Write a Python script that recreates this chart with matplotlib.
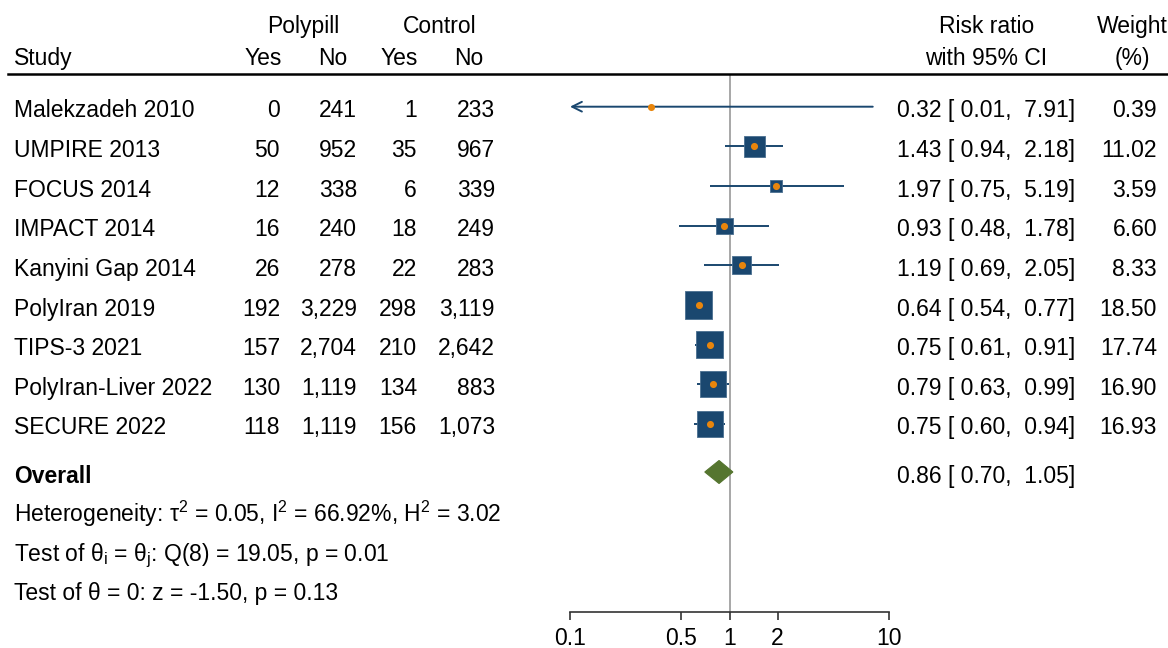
import matplotlib
matplotlib.use("Agg")
import matplotlib.pyplot as plt
from matplotlib.patches import Polygon
from matplotlib.lines import Line2D
import matplotlib.transforms as mtransforms
import numpy as np

plt.rcParams['font.family'] = ['Liberation Sans', 'DejaVu Sans']
plt.rcParams['mathtext.fontset'] = 'custom'
plt.rcParams['mathtext.rm'] = 'Liberation Sans'
plt.rcParams['mathtext.it'] = 'Liberation Sans'
FS = 16.5

# dados dos estudos
studies = ["Malekzadeh 2010", "UMPIRE 2013", "FOCUS 2014", "IMPACT 2014",
           "Kanyini Gap 2014", "PolyIran 2019", "TIPS-3 2021",
           "PolyIran-Liver 2022", "SECURE 2022"]
pp_yes = [0, 50, 12, 16, 26, 192, 157, 130, 118]
pp_no = [241, 952, 338, 240, 278, 3229, 2704, 1119, 1119]
ct_yes = [1, 35, 6, 18, 22, 298, 210, 134, 156]
ct_no = [233, 967, 339, 249, 283, 3119, 2642, 883, 1073]
rr = [0.32, 1.43, 1.97, 0.93, 1.19, 0.64, 0.75, 0.79, 0.75]
ci_lo = [0.01, 0.94, 0.75, 0.48, 0.69, 0.54, 0.61, 0.63, 0.60]
ci_hi = [7.91, 2.18, 5.19, 1.78, 2.05, 0.77, 0.91, 0.99, 0.94]
weights = [0.39, 11.02, 3.59, 6.60, 8.33, 18.50, 17.74, 16.90, 16.93]

overall_rr, overall_lo, overall_hi = 0.86, 0.70, 1.05
x_ticks = [0.1, 0.5, 1, 2, 10]
x_ticklabels = ["0.1", "0.5", "1", "2", "10"]

stats_lines = [
    r"Heterogeneity: $\mathregular{\tau^2}$ = 0.05, $\mathregular{I^2}$ = 66.92%, $\mathregular{H^2}$ = 3.02",
    r"Test of $\mathregular{\theta_i}$ = $\mathregular{\theta_j}$: Q(8) = 19.05, p = 0.01",
    "Test of \u03b8 = 0: z = -1.50, p = 0.13",
]

NAVY = "#1a476f"
ORANGE = "#e8850c"
GREEN = "#55752f"

W, H = 1168, 648
fig = plt.figure(figsize=(W / 100, H / 100), dpi=100)

# eixo do forest plot (log), em pixels: x 570..889, y 74..612
row0, step = 106.7, 39.66
top_px, bot_px = 74, 612
ax = fig.add_axes([570 / W, 1 - bot_px / H, 319 / W, (bot_px - top_px) / H])
ax.set_xscale("log")
ax.set_xlim(0.1, 10)
ax.set_ylim((bot_px - row0) / step, (top_px - row0) / step)
for s in ["top", "right", "left"]:
    ax.spines[s].set_visible(False)
ax.spines["bottom"].set_linewidth(1.2)
ax.spines["bottom"].set_color("#333333")
ax.set_yticks([])
ax.set_xticks(x_ticks)
ax.set_xticklabels(x_ticklabels)
ax.xaxis.set_minor_locator(matplotlib.ticker.NullLocator())
ax.tick_params(axis="x", direction="out", length=6, width=1.2, color="#333333",
               labelsize=FS, pad=5)
ax.patch.set_visible(False)

ax.axvline(1, color="#a0a0a0", lw=1.3, zorder=1)

rows = np.arange(len(studies))
for i in rows:
    if ci_lo[i] < 0.1:
        ax.annotate("", xy=(0.1, i), xytext=(ci_hi[i], i),
                    arrowprops=dict(arrowstyle="->,head_length=0.5,head_width=0.25",
                                    color=NAVY, lw=1.4, mutation_scale=14,
                                    shrinkA=0, shrinkB=0), zorder=2)
    else:
        ax.plot([ci_lo[i], ci_hi[i]], [i, i], color=NAVY, lw=1.4, zorder=2,
                solid_capstyle="butt")

side_pt = 6.33 * 0.72 * np.sqrt(weights)
ax.scatter(rr, rows, marker="s", s=side_pt ** 2, color=NAVY,
           edgecolor="#4a6f90", linewidth=0.6, zorder=3, clip_on=False)
ax.scatter(rr, rows, marker="o", s=26, color=ORANGE, linewidth=0, zorder=4,
           clip_on=False)

# diamante do efeito global
y_ov = (472 - row0) / step
hh = 0.29
ax.add_patch(Polygon([(overall_lo, y_ov), (overall_rr, y_ov - hh),
                      (overall_hi, y_ov), (overall_rr, y_ov + hh)],
                     closed=True, facecolor=GREEN, edgecolor=GREEN, lw=0.8,
                     zorder=3, clip_on=False))

# colunas de texto (y = linha de base em pixels)
tr = mtransforms.blended_transform_factory(fig.transFigure, ax.transData)
def col(px, base_px, s, ha="left", **kw):
    ax.text(px / W, (base_px - row0) / step, s, transform=tr, ha=ha,
            va="baseline", fontsize=FS, clip_on=False, **kw)

b1, b2 = 33, 65
col(14, b2, "Study")
col(303, b1, "Polypill", ha="center")
col(440, b1, "Control", ha="center")
col(282, b2, "Yes", ha="right")
col(347, b2, "No", ha="right")
col(418, b2, "Yes", ha="right")
col(483, b2, "No", ha="right")
col(987, b1, "Risk ratio", ha="center")
col(986, b2, "with 95% CI", ha="center")
col(1132, b1, "Weight", ha="center")
col(1132, b2, "(%)", ha="center")

for i in rows:
    b = row0 + step * i + 10.5
    col(14, b, studies[i])
    col(280, b, f"{pp_yes[i]:,}", ha="right")
    col(357, b, f"{pp_no[i]:,}", ha="right")
    col(417, b, f"{ct_yes[i]:,}", ha="right")
    col(495, b, f"{ct_no[i]:,}", ha="right")
    col(1075, b, f"{rr[i]:.2f} [{ci_lo[i]:5.2f}, {ci_hi[i]:5.2f}]", ha="right")
    col(1157, b, f"{weights[i]:.2f}", ha="right")

col(14, 482.5, "Overall", fontweight="bold")
col(1075, 482.5, f"{overall_rr:.2f} [{overall_lo:5.2f}, {overall_hi:5.2f}]", ha="right")
for k, line in enumerate(stats_lines):
    col(14, [522, 561, 600][k], line)

# linha do cabeçalho
fig.add_artist(Line2D([8 / W, 1], [1 - top_px / H] * 2, transform=fig.transFigure,
                      color="black", lw=1.8))

fig.savefig("out.png", dpi=100, facecolor="white")
